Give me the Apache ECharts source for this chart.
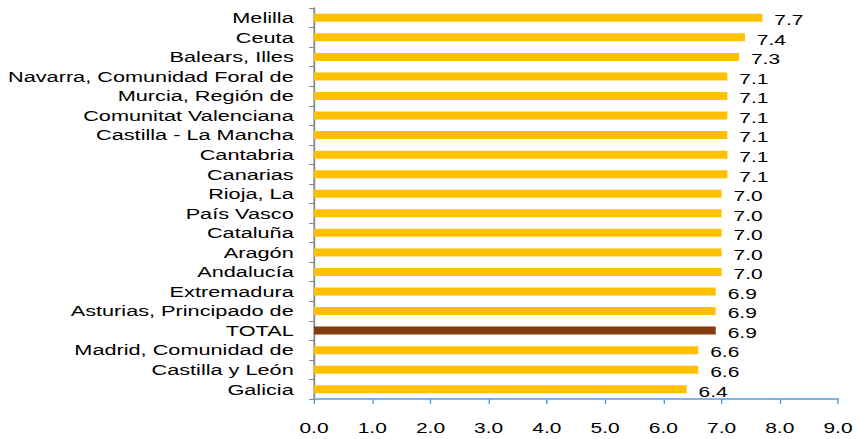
<!DOCTYPE html>
<html>
<head>
<meta charset="utf-8">
<script src="https://cdn.jsdelivr.net/npm/echarts@6/dist/echarts.min.js"></script>
<style>
  html, body { margin: 0; padding: 0; background: #fff; overflow: hidden; }
  #wrap { width: 857px; height: 439px; overflow: hidden; }
  /* the chart is laid out narrow and widened horizontally */
  #chart { width: 612px; height: 439px; transform: scaleX(1.4); transform-origin: 0 0; }
</style>
</head>
<body>
<div id="wrap"><div id="chart"></div></div>
<script>
// Regions listed top to bottom
const regions = [
  'Melilla', 'Ceuta', 'Balears, Illes', 'Navarra, Comunidad Foral de',
  'Murcia, Región de', 'Comunitat Valenciana', 'Castilla - La Mancha',
  'Cantabria', 'Canarias', 'Rioja, La', 'País Vasco', 'Cataluña', 'Aragón',
  'Andalucía', 'Extremadura', 'Asturias, Principado de', 'TOTAL',
  'Madrid, Comunidad de', 'Castilla y León', 'Galicia'
];
const values = [7.7, 7.4, 7.3, 7.1, 7.1, 7.1, 7.1, 7.1, 7.1, 7.0, 7.0, 7.0, 7.0, 7.0, 6.9, 6.9, 6.9, 6.6, 6.6, 6.4];
const totalName = 'TOTAL';

const gold = '#FFC000';
const brown = '#843C0C';
const font = 'Liberation Sans, Arial, sans-serif';

const chart = echarts.init(document.getElementById('chart'), null, { renderer: 'svg' });
chart.setOption({
  animation: false,
  grid: { left: 224.3, right: 11.8, top: 8, bottom: 40 },
  xAxis: {
    type: 'value',
    min: 0, max: 9, interval: 1,
    axisLine: { show: true, lineStyle: { color: '#5B9BD5', width: 1.5 } },
    axisTick: { show: true, length: 5, lineStyle: { color: '#5B9BD5', width: 1 } },
    splitLine: { show: false },
    axisLabel: {
      margin: 21,
      color: '#000', fontFamily: font, fontSize: 15,
      formatter: v => v.toFixed(1)
    }
  },
  yAxis: {
    type: 'category',
    inverse: true,
    data: regions,
    axisLine: { show: true, lineStyle: { color: '#868686', width: 1.3 } },
    axisTick: { show: true, length: 3.5, lineStyle: { color: '#868686' } },
    axisLabel: {
      interval: 0,
      margin: 14.5, padding: [4, 0, 0, 0],
      color: '#000', fontFamily: font, fontSize: 15.5
    }
  },
  series: [{
    type: 'bar',
    barWidth: 8,
    data: values.map((v, i) => ({
      value: v,
      itemStyle: { color: regions[i] === totalName ? brown : gold }
    })),
    label: {
      show: true,
      position: 'right',
      distance: 8.5,
      offset: [0, 2],
      color: '#000', fontFamily: font, fontSize: 15,
      formatter: p => p.value.toFixed(1)
    }
  }]
});
</script>
</body>
</html>
